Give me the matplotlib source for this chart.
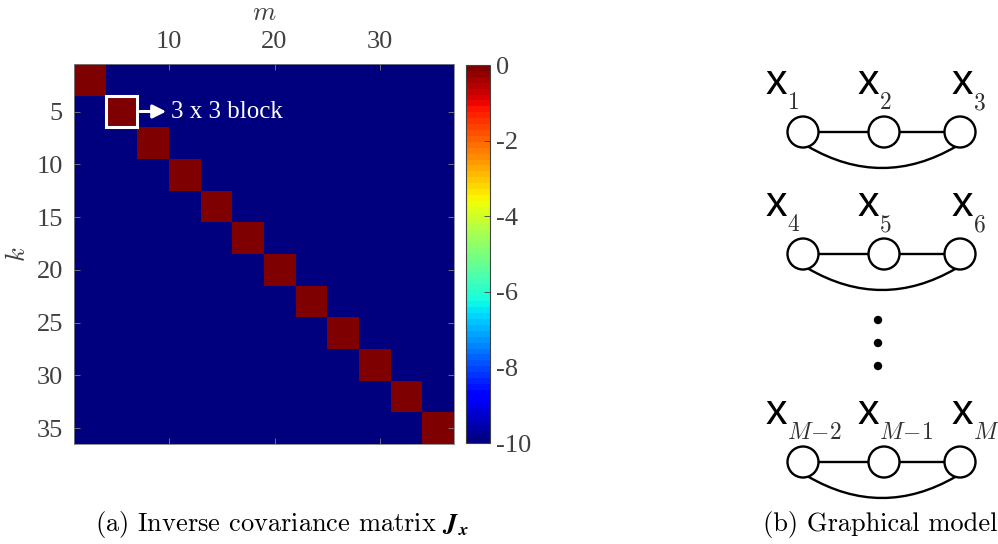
import numpy as np
import matplotlib.pyplot as plt
from matplotlib.patches import Circle, Rectangle
from matplotlib.path import Path
from matplotlib.patches import PathPatch

plt.rcParams['mathtext.fontset'] = 'cm'
plt.rcParams['axes.unicode_minus'] = False

# data
block_size = 3
n_blocks = 12
block_value = 0.0
off_value = -10.0
x_ticks = [10, 20, 30]
y_ticks = [5, 10, 15, 20, 25, 30, 35]
cbar_ticks = [0, -2, -4, -6, -8, -10]
highlight_block = 2
row_subs = [['1', '2', '3'], ['4', '5', '6'], ['M\\!-\\!2', 'M\\!-\\!1', 'M']]

n = block_size * n_blocks
J = np.full((n, n), off_value)
J += np.kron(np.eye(n_blocks), np.ones((block_size, block_size))) * (block_value - off_value)

W, H = 998, 544
fig = plt.figure(figsize=(W / 100, H / 100), dpi=100)

tick_col = '#404040'
serif = 'Liberation Serif'

def fx(px):
    return px / W

def fy(py):
    return 1 - py / H

# heatmap
ax = fig.add_axes([fx(74), fy(444), fx(454) - fx(74), fy(64) - fy(444)])
cmap = plt.get_cmap('jet', 64)
im = ax.imshow(J, cmap=cmap, vmin=-10, vmax=0, extent=(1, n + 1, n + 0.5, 0.5),
               aspect='auto', interpolation='nearest')
ax.set_xticks(x_ticks)
ax.set_yticks(y_ticks)
ax.xaxis.tick_top()
ax.tick_params(direction='in', top=True, bottom=True, left=True, right=True,
               labeltop=True, labelbottom=False, length=4, width=0.6,
               color='#808080', labelcolor=tick_col, labelsize=19, pad=8)
for lab in ax.get_xticklabels() + ax.get_yticklabels():
    lab.set_fontfamily(serif)
for s in ax.spines.values():
    s.set_color('#808080')
    s.set_linewidth(0.6)
ax.set_xlabel('$m$', fontsize=19, color=tick_col, labelpad=8)
ax.xaxis.set_label_position('top')
ax.set_ylabel('$k$', fontsize=19, color=tick_col, labelpad=4)

# highlight block
b0 = (highlight_block - 1) * block_size
ax.add_patch(Rectangle((b0 + 1, b0 + 0.5), block_size, block_size, fill=False,
                       edgecolor='white', linewidth=2.2, zorder=3))
ax.annotate('', xy=(b0 + block_size + 4.0, b0 + 0.5 + block_size / 2),
            xytext=(b0 + block_size + 1, b0 + 0.5 + block_size / 2),
            arrowprops=dict(arrowstyle='-|>', color='white', lw=2.2, mutation_scale=20))
ax.text(b0 + block_size + 4.2, b0 + 0.5 + block_size / 2, '3 x 3 block', color='white',
        fontsize=18, fontfamily=serif, va='center', ha='left')

# colorbar
cax = fig.add_axes([fx(466), fy(443), fx(490) - fx(466), fy(65) - fy(443)])
cb = fig.colorbar(im, cax=cax, ticks=cbar_ticks)
cb.outline.set_edgecolor('#404040')
cb.outline.set_linewidth(0.8)
cax.tick_params(direction='in', length=4, width=0.6, color='#404040',
                labelcolor=tick_col, labelsize=19, pad=4)
cax.set_yticklabels([str(t) for t in cbar_ticks])
for lab in cax.get_yticklabels():
    lab.set_fontfamily(serif)

# overlay for graphical model and captions
ov = fig.add_axes([0, 0, 1, 1])
ov.set_xlim(0, W)
ov.set_ylim(H, 0)
ov.axis('off')
ov.patch.set_alpha(0)

node_x = [803, 884, 960]
node_y = [132, 254, 462]
label_x = [776, 868, 962]
r = 15.5
lw = 1.7
for row, ny in enumerate(node_y):
    for cx in node_x:
        ov.add_patch(Circle((cx, ny), r, facecolor='white', edgecolor='black', lw=lw, zorder=3))
    for a, b in zip(node_x[:-1], node_x[1:]):
        ov.plot([a + r, b - r], [ny, ny], color='black', lw=lw, zorder=2)
    p0 = (node_x[0] + 5, ny + r - 1)
    p2 = (node_x[2] - 4, ny + r - 1)
    c = ((p0[0] + p2[0]) / 2, 2 * (ny + 36) - p0[1])
    path = Path([p0, c, p2], [Path.MOVETO, Path.CURVE3, Path.CURVE3])
    ov.add_patch(PathPatch(path, facecolor='none', edgecolor='black', lw=lw, zorder=2))
    for lx, sub in zip(label_x, row_subs[row]):
        ov.text(lx, ny - 49, 'x', fontsize=31, fontfamily='Liberation Sans',
                ha='center', va='center')
        ov.text(lx + 11, ny - 30, '$' + sub + '$' if sub.startswith('M') else '$\\mathrm{' + sub + '}$',
                fontsize=17, color='#303030', ha='left', va='center')

for dy in [320, 343, 366]:
    ov.add_patch(Circle((878, dy), 4.2, facecolor='black', edgecolor='none'))

ov.text(282, 524, '(a) Inverse covariance matrix $\\boldsymbol{J}_{\\boldsymbol{x}}$',
        fontsize=19, fontfamily='cmr10', ha='center', va='center')
ov.text(880, 524, '(b) Graphical model', fontsize=19, fontfamily='cmr10',
        ha='center', va='center')

fig.savefig('out.png', dpi=100)
